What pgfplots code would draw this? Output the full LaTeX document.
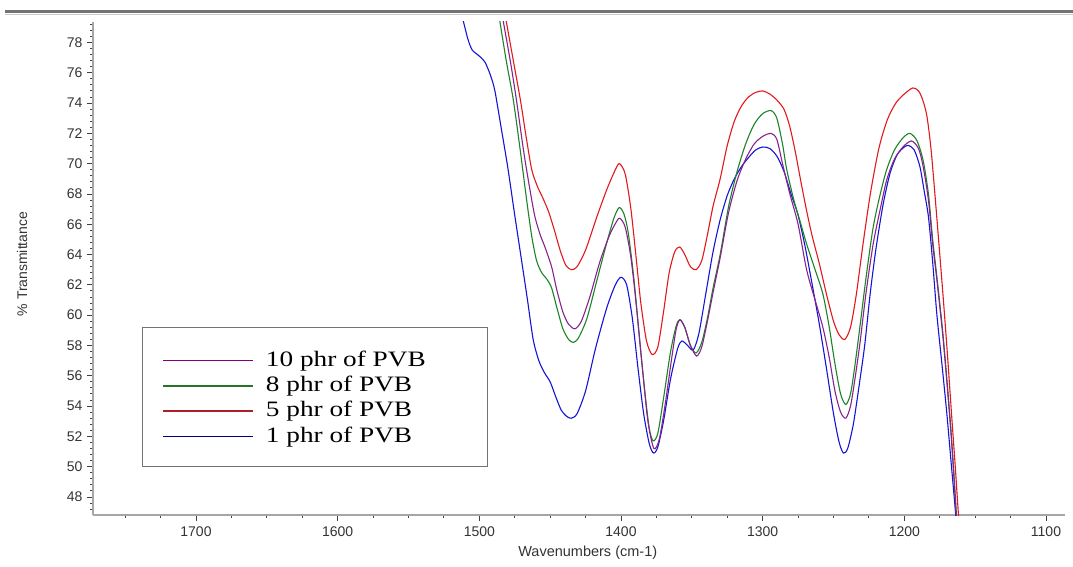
\documentclass[border=0pt]{standalone}
\usepackage{pgfplots}
\pgfplotsset{compat=1.18}
\usepackage{graphicx}
\usepackage{fontspec}
\setmainfont{Liberation Sans}
\newfontfamily\timesf{Liberation Serif}
\definecolor{cpur}{RGB}{135,35,140}
\definecolor{cgrn}{RGB}{30,130,40}
\definecolor{cred}{RGB}{225,25,30}
\definecolor{cblu}{RGB}{20,20,215}
\definecolor{lpur}{RGB}{128,0,128}
\definecolor{lgrn}{RGB}{40,115,40}
\definecolor{lred}{RGB}{175,30,40}
\definecolor{lblu}{RGB}{0,0,125}
\newcommand{\leg}[1]{\scalebox{1.24}[1]{#1}}
\begin{document}
\begin{tikzpicture}
\path[use as bounding box] (-93pt,-51pt) rectangle (980pt,515pt);
\draw[line width=3pt, black!55] (-88pt,503pt) -- (980pt,503pt);
\draw[line width=1.2pt, black!20] (-88pt,500.6pt) -- (980pt,500.6pt);
\begin{axis}[
  at={(0pt,0pt)}, anchor=south west,
  width=972pt, height=493pt, scale only axis,
  x dir=reverse,
  xmin=1086.6, xmax=1772.7,
  ymin=46.81, ymax=79.35,
  axis x line*=bottom, axis y line*=left,
  x axis line style={-}, y axis line style={-},
  axis line style={black!35, line width=1.6pt},
  xtick={1100,1200,...,1700},
  ytick={48,50,...,78},
  minor xtick={1100,1125,...,1775},
  minor ytick={47.2,47.6,...,79.3},
  tick align=outside,
  major tick length=6pt, minor tick length=3pt,
  major tick style={black!75, line width=0.9pt},
  minor tick style={black!75, line width=0.9pt},
  /pgf/number format/assume math mode=true,
  /pgf/number format/1000 sep={},
  ticklabel style={font=\fontsize{14}{14}\selectfont, text=black!80},
  xticklabel style={yshift=-2pt},
  yticklabel style={xshift=-1pt},
  xlabel={Wavenumbers (cm-1)},
  ylabel={\% Transmittance},
  xlabel style={at={(axis description cs:0.509,-0.077)}, anchor=center, font=\fontsize{14.5}{14.5}\selectfont, text=black!80},
  ylabel style={at={(axis description cs:-0.073,0.509)}, anchor=center, font=\fontsize{14}{14}\selectfont, text=black!80},
  legend style={at={(axis description cs:0.0501,0.382)}, anchor=north west,
    draw=black!55, line width=1.3pt, fill=white,
    inner xsep=20pt, inner ysep=19pt,
    font=\timesf\fontsize{22}{22}\selectfont,
    nodes={inner sep=0pt, text height=20pt, text depth=5.3pt},
    row sep=0pt,
    /tikz/every odd column/.append style={column sep=12pt}},
  legend cell align=left,
  legend image code/.code={\draw[#1] (0pt,-1.5pt) -- (90pt,-1.5pt);},
  every axis plot/.append style={line width=1.1pt, smooth, tension=0.45},
]
% 1 phr (blue)
\addplot[cblu, forget plot] coordinates {
(1514,80.4)(1511,79.3)(1508,78.2)(1505,77.5)(1500,77.1)(1496,76.7)(1492,75.8)(1489,74.8)
(1485,72.6)(1480,69.8)(1475,66.6)(1470,63.5)(1466,61.0)(1462,58.4)(1458,57.0)(1454,56.2)
(1450,55.6)(1446,54.6)(1442,53.7)(1438,53.3)(1435,53.2)(1431,53.5)(1425,55.0)(1418,57.8)
(1410,60.5)(1404,62.0)(1400,62.5)(1396,62.0)(1392,59.8)(1388,56.5)(1384,53.5)(1380,51.5)
(1377,50.9)(1374,51.3)(1370,53.0)(1365,55.8)(1360,57.8)(1357,58.3)(1353,58.0)(1349,57.7)
(1345,58.8)(1340,61.5)(1335,64.2)(1330,66.3)(1325,67.9)(1320,69.0)(1315,69.8)(1310,70.4)
(1305,70.9)(1300,71.1)(1295,71.0)(1290,70.5)(1285,69.5)(1280,68.0)(1275,66.6)(1270,64.5)
(1265,62.0)(1260,59.4)(1255,56.5)(1250,53.5)(1246,51.6)(1243,50.9)(1240,51.2)(1236,52.8)
(1232,55.3)(1228,58.0)(1224,61.5)(1220,64.4)(1215,67.3)(1210,69.4)(1205,70.6)(1200,71.1)
(1197,71.2)(1193,70.9)(1189,69.8)(1186,68.2)(1183,66.5)(1180,63.5)(1177,60.0)(1173.5,56.8)
(1170,53.5)(1167,50.3)(1164,47.1)(1162,44.5)
};
% 5 phr (red)
\addplot[cred, forget plot] coordinates {
(1484,81.0)(1481,79.4)(1476,76.8)(1471,74.2)(1467,71.8)(1463,69.6)(1459,68.5)(1455,67.7)
(1451,66.8)(1447,65.6)(1443,64.3)(1439,63.3)(1435,63.0)(1431,63.2)(1425,64.3)(1417,66.5)
(1410,68.3)(1404,69.6)(1401,70.0)(1397,69.3)(1393,67.0)(1389,63.5)(1386,60.8)(1382,58.3)
(1378,57.4)(1374,57.9)(1370,60.2)(1366,62.8)(1362,64.2)(1358.5,64.5)(1355,64.0)(1351,63.2)
(1347,63.0)(1343,63.6)(1339,65.3)(1335,67.2)(1330,69.0)(1325,71.2)(1320,72.8)(1315,73.8)
(1310,74.4)(1305,74.7)(1300,74.8)(1295,74.6)(1290,74.2)(1285,73.6)(1281,72.5)(1277,70.8)
(1273,68.8)(1269,66.9)(1265,65.2)(1260,63.4)(1255,61.4)(1250,59.6)(1246,58.7)(1242,58.4)
(1238,59.2)(1234,61.3)(1229,64.8)(1224,68.0)(1218,71.0)(1212,72.9)(1206,74.0)(1200,74.6)
(1194,75.0)(1190,74.8)(1187,74.2)(1184,73.1)(1181,70.8)(1177.3,66.7)(1172.6,61.2)
(1169.5,57.3)(1166.7,53.5)(1164.2,50.2)(1162,47.1)(1160,44.5)
};
% 8 phr (green)
\addplot[cgrn, forget plot] coordinates {
(1488,81.0)(1485.5,79.4)(1481,76.8)(1476,74.2)(1471,70.8)(1466.6,67.6)(1463,65.2)(1459.6,63.6)
(1456,62.8)(1452.5,62.4)(1449,61.8)(1445,60.4)(1441,59.1)(1437,58.4)(1433.7,58.2)(1430,58.5)
(1424,59.8)(1417,62.3)(1410,64.8)(1405,66.4)(1401.3,67.1)(1398,66.7)(1395,65.5)(1391,62.5)
(1387,58.5)(1383,54.8)(1380,52.5)(1377.3,51.7)(1374,52.2)(1370,54.5)(1365,57.6)(1361,59.3)
(1358.4,59.7)(1355,59.2)(1351,58.0)(1347,57.5)(1343,58.2)(1339,59.8)(1335,61.8)(1330,64.0)
(1324,67.2)(1318,69.5)(1312,71.3)(1306,72.6)(1300,73.3)(1294,73.5)(1290,73.0)(1286,71.3)
(1283,69.6)(1278,67.6)(1273,66.0)(1269,64.7)(1263,63.0)(1257.5,61.4)(1253,59.2)(1249,56.8)
(1245,54.8)(1241.3,54.1)(1238,54.8)(1235,56.6)(1231.4,59.2)(1227,62.5)(1222,65.8)(1217,68.0)
(1212.5,69.6)(1207,70.9)(1201,71.7)(1196,72.0)(1191,71.5)(1186.7,70.2)(1183,68.0)(1180,65.0)
(1177,62.5)(1173,59.0)(1170,55.8)(1167,52.3)(1165,49.5)(1163,46.5)(1161,44.0)
};
% 10 phr (purple)
\addplot[cpur, forget plot] coordinates {
(1486,81.0)(1483.1,79.4)(1478,76.7)(1473.8,74.2)(1469,71.0)(1465.4,68.9)(1461,66.6)(1457,65.3)
(1453.7,64.5)(1449,63.2)(1445.4,61.7)(1441,60.2)(1437,59.4)(1432.5,59.1)(1428,59.6)(1422,61.2)
(1415,63.5)(1408,65.3)(1403,66.2)(1400.8,66.4)(1397,65.8)(1393,63.8)(1389,60.5)(1385,56.6)
(1381,53.0)(1376.8,51.2)(1373,51.8)(1369,54.0)(1364,57.3)(1361,59.1)(1358.4,59.7)(1355,59.2)
(1351,58.0)(1346.6,57.3)(1343,57.9)(1339,59.6)(1335,61.5)(1330,63.8)(1324,66.8)(1318,68.9)
(1312,70.3)(1306,71.3)(1300,71.8)(1294,72.0)(1290,71.6)(1286,70.0)(1280.8,68.0)(1275,66.0)
(1269,63.0)(1263,61.0)(1257.5,59.2)(1253,57.2)(1249,55.0)(1245,53.6)(1241.3,53.2)(1238,54.0)
(1235,55.7)(1231.4,58.1)(1227,61.5)(1222,64.7)(1217,67.0)(1212.5,68.9)(1207,70.3)(1201,71.1)
(1195,71.5)(1190,71.0)(1186.7,69.8)(1183,67.6)(1180,64.7)(1177,62.3)(1173,58.8)(1170,55.6)
(1167,52.1)(1165,49.3)(1163,46.3)(1161,44.0)
};
\addlegendimage{lpur, line width=1.6pt}
\addlegendentry{\leg{10 phr of PVB}\hspace*{42pt}}
\addlegendimage{lgrn, line width=1.6pt}
\addlegendentry{\leg{8 phr of PVB}}
\addlegendimage{lred, line width=1.6pt}
\addlegendentry{\leg{5 phr of PVB}}
\addlegendimage{lblu, line width=1.6pt}
\addlegendentry{\leg{1 phr of PVB}}
\end{axis}
\end{tikzpicture}
\end{document}
